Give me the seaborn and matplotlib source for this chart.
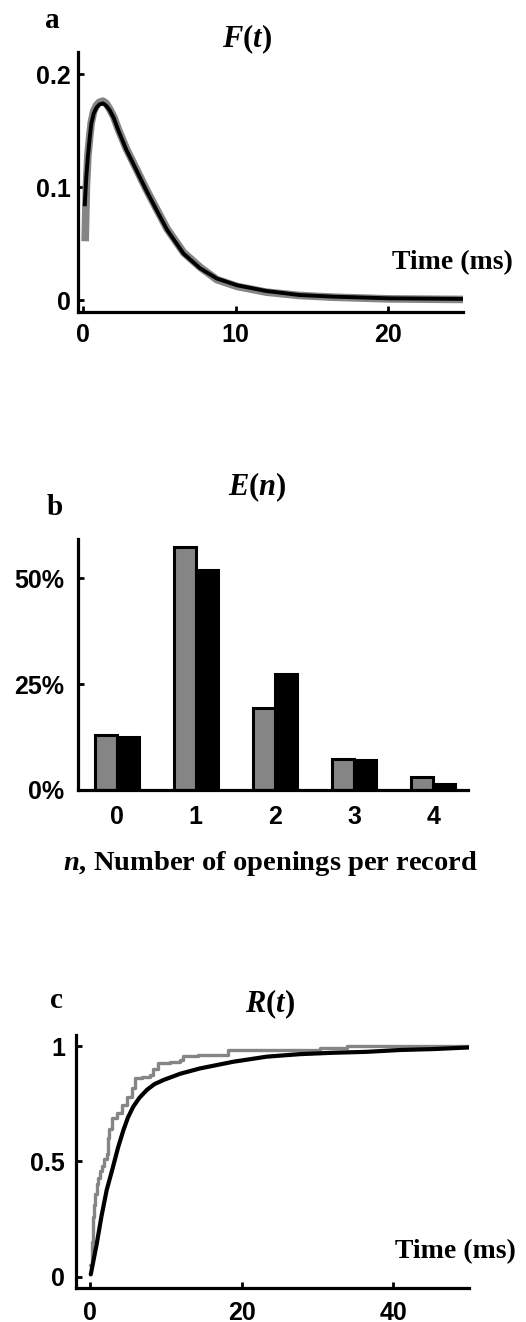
import matplotlib
matplotlib.use("Agg")
import matplotlib.pyplot as plt
import numpy as np
import pandas as pd
import seaborn as sns

# ---------------- data ----------------
# Panel a: open-time density F(t)
fit_t = [0.09, 0.2, 0.3, 0.42, 0.52, 0.68, 0.85, 1.05, 1.29, 1.5, 1.73, 2.0, 2.3, 2.82,
         3.48, 4.13, 4.79, 5.5, 6.58, 7.67, 8.77, 10.1, 12.0, 14.2, 16.4, 20.1, 25.0]
fit_F = [0.083, 0.110, 0.127, 0.144, 0.156, 0.165, 0.170, 0.173, 0.174, 0.172, 0.168, 0.161, 0.150, 0.133,
         0.115, 0.097, 0.080, 0.062, 0.041, 0.028, 0.019, 0.013, 0.008, 0.0044, 0.003, 0.0015, 0.001]
obs_t = [0.12, 0.2, 0.3, 0.42, 0.52, 0.68, 0.85, 1.05, 1.29, 1.5, 1.73, 2.0, 2.3, 2.82,
         3.48, 4.13, 4.79, 5.5, 6.58, 7.67, 8.77, 10.1, 12.0, 14.2, 16.4, 20.1, 25.0]
obs_F = [0.052, 0.100, 0.128, 0.145, 0.157, 0.167, 0.172, 0.175, 0.176, 0.174, 0.169, 0.162, 0.151, 0.134,
         0.116, 0.098, 0.081, 0.063, 0.042, 0.029, 0.018, 0.012, 0.007, 0.004, 0.0025, 0.001, 0.0005]

# Panel b: E(n), distribution of openings per record (%)
n_open = [0, 1, 2, 3, 4]
pct_observed = [13.0, 57.2, 19.4, 7.3, 3.1]
pct_model = [12.6, 51.9, 27.3, 7.1, 1.3]

# Panel c: cumulative R(t)
cum_t_model = [0.1, 0.9, 1.5, 2.2, 2.9, 3.3, 3.7, 4.4, 5.0, 5.7, 6.5, 7.5, 8.5, 9.7, 11.9,
               14.5, 18.9, 23.3, 27.7, 32.1, 36.5, 40.9, 45.3, 50.0]
cum_R_model = [0.01, 0.145, 0.26, 0.376, 0.46, 0.51, 0.56, 0.635, 0.69, 0.737, 0.775, 0.81, 0.835, 0.853, 0.88,
               0.903, 0.932, 0.954, 0.965, 0.971, 0.975, 0.983, 0.987, 0.994]
cum_t_obs = [0.05, 0.25, 0.35, 0.5, 0.67, 0.9, 1.1, 1.3, 1.54, 1.9, 2.2, 2.4, 2.55, 2.86, 3.5,
             4.18, 4.84, 5.5, 5.93, 6.8, 7.9, 8.35, 9.0, 10.55, 11.9, 12.3, 14.3, 18.2, 30.3, 33.9, 50.0]
cum_R_obs = [0.05, 0.15, 0.26, 0.31, 0.36, 0.40, 0.43, 0.46, 0.48, 0.51, 0.53, 0.60, 0.64, 0.69, 0.71,
             0.745, 0.78, 0.82, 0.86, 0.867, 0.875, 0.90, 0.925, 0.932, 0.94, 0.955, 0.962, 0.983, 0.99, 1.0, 1.0]

# ---------------- style ----------------
sns.set_style("ticks")
plt.rcParams["font.family"] = ["Liberation Sans", "DejaVu Sans"]
plt.rcParams["font.weight"] = "bold"
plt.rcParams["text.color"] = "black"
plt.rcParams["axes.labelcolor"] = "black"
plt.rcParams["xtick.color"] = "black"
plt.rcParams["ytick.color"] = "black"
plt.rcParams["mathtext.fontset"] = "custom"
plt.rcParams["mathtext.it"] = "Liberation Serif:italic:bold"
plt.rcParams["mathtext.rm"] = "Liberation Serif:bold"
plt.rcParams["mathtext.bf"] = "Liberation Serif:bold"

GRAY = "#858585"
BLACK = "#000000"
W, H = 526, 1322
SERIF = ["Liberation Serif", "DejaVu Serif"]

fig = plt.figure(figsize=(W / 100, H / 100), dpi=100)


def px_axes(left, top, right, bottom):
    return fig.add_axes([left / W, 1 - bottom / H, (right - left) / W, (bottom - top) / H])


def style_axes(ax, xpad, ypad, xticklen=4):
    sns.despine(ax=ax)
    for s in ("left", "bottom"):
        ax.spines[s].set_linewidth(2.3)
        ax.spines[s].set_color("black")
    ax.tick_params(axis="both", direction="in", width=2, labelsize=18,
                   colors="black", labelcolor="black")
    ax.tick_params(axis="x", length=xticklen, pad=xpad)
    ax.tick_params(axis="y", length=4, pad=ypad)
    for lab in ax.get_xticklabels() + ax.get_yticklabels():
        lab.set_fontweight("bold")
        lab.set_color("black")
    ax.set_xlabel("")
    ax.set_ylabel("")
    ax.set_facecolor("white")


def label(x, y, s, size=20, **kw):
    fig.text(x / W, 1 - y / H, s, fontsize=size, family=SERIF, fontweight="bold",
             color="black", va="baseline", ha="left", **kw)


# ---------------- panel a ----------------
ax_a = px_axes(78, 52, 463, 312)
df_a_obs = pd.DataFrame({"t": obs_t, "F": obs_F})
df_a_fit = pd.DataFrame({"t": fit_t, "F": fit_F})
sns.lineplot(data=df_a_obs, x="t", y="F", ax=ax_a, color=GRAY, lw=5.5, estimator=None,
             sort=False, solid_capstyle="butt", solid_joinstyle="round")
sns.lineplot(data=df_a_fit, x="t", y="F", ax=ax_a, color=BLACK, lw=2.8, estimator=None,
             sort=False, solid_capstyle="butt", solid_joinstyle="round")
ax_a.set_xlim(-0.35, 24.92)
ax_a.set_ylim(-0.0106, 0.2195)
ax_a.set_xticks([0, 10, 20])
ax_a.set_xticklabels(["0", "10", "20"])
ax_a.set_yticks([0, 0.1, 0.2])
ax_a.set_yticklabels(["0", "0.1", "0.2"])
style_axes(ax_a, xpad=8, ypad=5)

label(45, 28, "a", size=21)
label(222, 47, r"$\mathit{F}\mathrm{(}\mathit{t}\mathrm{)}$", size=22)
label(392, 269, "Time (ms)", size=20)

# ---------------- panel b ----------------
ax_b = px_axes(78, 539, 468, 790)
df_b = pd.DataFrame({
    "n": n_open * 2,
    "pct": pct_observed + pct_model,
    "set": ["observed"] * len(n_open) + ["model"] * len(n_open),
})
sns.barplot(data=df_b, x="n", y="pct", hue="set", hue_order=["observed", "model"],
            palette=[GRAY, BLACK], width=0.55, edgecolor="black", linewidth=2.2,
            legend=False, ax=ax_b, saturation=1)
ax_b.set_xlim(-0.49, 4.44)
ax_b.set_ylim(0, 59.2)
ax_b.set_yticks([0, 25, 50])
ax_b.set_yticklabels(["0%", "25%", "50%"])
style_axes(ax_b, xpad=11, ypad=10, xticklen=0)

label(47, 515, "b", size=21)
label(228, 495, r"$\mathit{E}\mathrm{(}\mathit{n}\mathrm{)}$", size=22)
label(63, 870, r"$\mathit{n}$, Number of openings per record", size=20.5)

# ---------------- panel c ----------------
ax_c = px_axes(76, 1035, 469, 1288)
df_c_obs = pd.DataFrame({"t": cum_t_obs, "R": cum_R_obs})
df_c_fit = pd.DataFrame({"t": cum_t_model, "R": cum_R_model})
sns.lineplot(data=df_c_obs, x="t", y="R", ax=ax_c, color=GRAY, lw=2.4, estimator=None,
             sort=False, drawstyle="steps-post")
sns.lineplot(data=df_c_fit, x="t", y="R", ax=ax_c, color=BLACK, lw=3.0, estimator=None,
             sort=False, solid_capstyle="round", solid_joinstyle="round")
ax_c.set_xlim(-1.85, 50)
ax_c.set_ylim(-0.049, 1.048)
ax_c.set_xticks([0, 20, 40])
ax_c.set_xticklabels(["0", "20", "40"])
ax_c.set_yticks([0, 0.5, 1])
ax_c.set_yticklabels(["0", "0.5", "1"])
style_axes(ax_c, xpad=9, ypad=8)

label(50, 1008, "c", size=21)
label(245, 1012, r"$\mathit{R}\mathrm{(}\mathit{t}\mathrm{)}$", size=22)
label(395, 1258, "Time (ms)", size=20)

fig.savefig("out.png", dpi=100, facecolor="white")
